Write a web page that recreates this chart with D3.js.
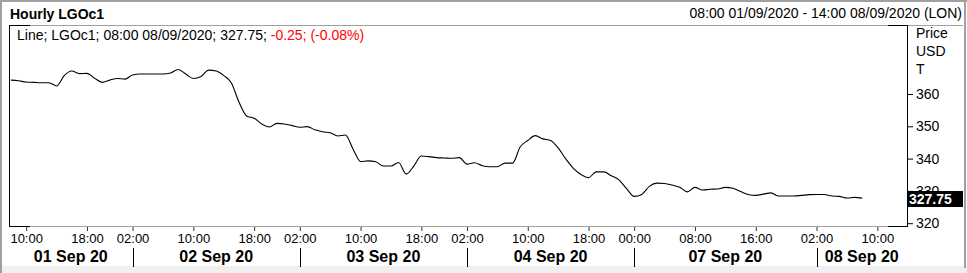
<!DOCTYPE html>
<html>
<head>
<meta charset="utf-8">
<script src="https://cdn.jsdelivr.net/npm/d3@7"></script>
<style>
  body { margin: 0; background: #fff; }
  svg { display: block; font-family: "Liberation Sans", Arial, sans-serif; }
</style>
</head>
<body>
<svg width="967" height="273"></svg>
<script>
// trading days shown on the chart, first / last hourly slot on each
var days = ["01 Sep 20", "02 Sep 20", "03 Sep 20", "04 Sep 20", "07 Sep 20", "08 Sep 20"];
var dayFirstHour = [8, 2, 2, 2, 0, 2];
var dayLastHour = [23, 23, 23, 23, 23, 14];
var hourTicks = [["10:00", "18:00"], ["02:00", "10:00", "18:00"], ["02:00", "10:00", "18:00"],
                 ["02:00", "10:00", "18:00"], ["00:00", "08:00", "16:00"], ["02:00", "10:00"]];

// hourly LGOc1 closes, one list per day
var sep01 = [364.3, 364.1, 363.7, 363.6, 363.5, 363.5, 362.5, 365.7, 367.1, 366.3, 366.4, 364.9, 363.6, 364.3, 364.8, 364.6];
var sep02 = [365.9, 366.2, 366.2, 366.2, 366.2, 366.5, 367.6, 366.2, 364.8, 365.4, 367.4, 367.1, 365.7, 363.4, 357.5, 353.2,
             352.5, 350.7, 349.8, 350.9, 350.7, 350.2];
var sep03 = [349.7, 349.9, 348.9, 348.3, 348.0, 347.0, 347.3, 343.0, 339.1, 339.3, 339.0, 337.7, 337.7, 338.8, 335.2, 337.7,
             340.8, 340.6, 340.3, 340.2, 340.1, 340.3];
var sep04 = [338.3, 338.7, 337.8, 337.5, 337.5, 338.6, 338.6, 343.6, 345.6, 347.1, 346.1, 345.6, 343.3, 339.9, 337.0, 335.1,
             334.1, 335.9, 335.9, 334.7, 333.4, 330.7];
var sep07 = [328.3, 328.9, 331.4, 332.4, 332.3, 331.8, 331.1, 329.7, 331.1, 330.3, 330.5, 330.6, 331.1, 330.8, 329.8, 328.9,
             328.6, 329.0, 329.4, 328.4, 328.4, 328.4, 328.6, 328.85];
var sep08 = [328.9, 328.9, 328.4, 328.3, 327.8, 328.0, 327.75];
var priceTicks = [320, 330, 340, 350, 360];
var lastPrice = 327.75;

var svg = d3.select('svg');
var W = 967, H = 273;
var plot = { left: 9, right: 907, top: 25, bottom: 227 };

// lay out the hourly slots; x is an index axis (no gaps for closed hours)
var dayStart = [], slots = [];
days.forEach(function (d, i) {
  dayStart.push(slots.length);
  for (var h = dayFirstHour[i]; h <= dayLastHour[i]; h++) slots.push({ day: i, hour: h });
});
var prices = [].concat(sep01, sep02, sep03, sep04, sep07, sep08);

var x = d3.scaleLinear().domain([-0.26, 117.9]).range([plot.left, plot.right]);
var y = d3.scaleLinear().domain([320, 360]).range([223.2, 94]);

// frame
svg.append('rect').attr('x', 0).attr('y', 0).attr('width', W).attr('height', H).attr('fill', '#fff');
svg.append('rect').attr('x', 0).attr('y', 266).attr('width', W).attr('height', 7).attr('fill', '#f0f0f0');
svg.append('rect').attr('x', 0).attr('y', 0).attr('width', W).attr('height', 2).attr('fill', '#a0a0a0');
svg.append('rect').attr('x', 0).attr('y', 0).attr('width', 2).attr('height', H).attr('fill', '#a0a0a0');
svg.append('rect').attr('x', 964).attr('y', 0).attr('width', 2).attr('height', 268).attr('fill', '#a0a0a0');

// header
svg.append('text').attr('x', 10).attr('y', 19).attr('font-size', 14).attr('font-weight', 'bold')
   .text('Hourly LGOc1');
svg.append('text').attr('x', 962).attr('y', 18).attr('font-size', 14).attr('text-anchor', 'end')
   .text('08:00 01/09/2020 - 14:00 08/09/2020 (LON)');

// plot box: grey edges with short black corners
var grey = '#a0a0a0';
svg.append('line').attr('x1', plot.left).attr('x2', 963).attr('y1', plot.top + 0.5).attr('y2', plot.top + 0.5)
   .attr('stroke', grey);
svg.append('line').attr('x1', plot.left).attr('x2', plot.right).attr('y1', plot.bottom - 0.5).attr('y2', plot.bottom - 0.5)
   .attr('stroke', grey);
[[plot.left, plot.left + 21], [plot.right - 19, plot.right]].forEach(function (s) {
  svg.append('line').attr('x1', s[0]).attr('x2', s[1]).attr('y1', plot.top + 0.5).attr('y2', plot.top + 0.5).attr('stroke', '#000');
  svg.append('line').attr('x1', s[0]).attr('x2', s[1]).attr('y1', plot.bottom - 0.5).attr('y2', plot.bottom - 0.5).attr('stroke', '#000');
});
svg.append('line').attr('x1', plot.left + 0.5).attr('x2', plot.left + 0.5).attr('y1', plot.top).attr('y2', plot.bottom)
   .attr('stroke', '#000');

// legend line
var leg = svg.append('text').attr('x', 17).attr('y', 40).attr('font-size', 14);
leg.append('tspan').text('Line; LGOc1; 08:00 08/09/2020; ' + lastPrice.toFixed(2) + '; ');
leg.append('tspan').attr('fill', '#ff0000').text('-0.25; (-0.08%)');

// price line
var line = d3.line()
  .x(function (d, i) { return x(i); })
  .y(function (d) { return y(d); })
  .curve(d3.curveMonotoneX);
svg.append('path').datum(prices).attr('d', line)
   .attr('fill', 'none').attr('stroke', '#000').attr('stroke-width', 1.1);

// right price axis
var yAxis = svg.append('g').attr('transform', 'translate(' + plot.right + ',0)')
  .call(d3.axisRight(y).tickValues(priceTicks).tickSize(6).tickPadding(3));
yAxis.select('.domain').remove();
yAxis.selectAll('text').attr('font-size', 14).attr('font-family', null).attr('fill', '#000');
yAxis.selectAll('line').attr('stroke', '#000');
svg.append('line').attr('x1', plot.right + 0.5).attr('x2', plot.right + 0.5).attr('y1', plot.top).attr('y2', plot.bottom)
   .attr('stroke', '#000');
['Price', 'USD', 'T'].forEach(function (t, i) {
  svg.append('text').attr('x', 916).attr('y', 38 + i * 18).attr('font-size', 14).text(t);
});

// last value tag
svg.append('rect').attr('x', 908).attr('y', 191).attr('width', 55).attr('height', 16).attr('fill', '#000');
svg.append('text').attr('x', 909).attr('y', 204).attr('font-size', 14).attr('font-weight', 'bold')
   .attr('fill', '#fff').text(lastPrice.toFixed(2));

// bottom time axis
var tickIdx = [], tickLab = [];
hourTicks.forEach(function (list, d) {
  list.forEach(function (lab) {
    tickIdx.push(dayStart[d] + parseInt(lab, 10) - dayFirstHour[d]);
    tickLab.push(lab);
  });
});
var xAxis = svg.append('g').attr('transform', 'translate(0,' + plot.bottom + ')')
  .call(d3.axisBottom(x).tickValues(tickIdx).tickSize(4).tickPadding(3)
          .tickFormat(function (d, i) { return tickLab[i]; }));
xAxis.select('.domain').remove();
xAxis.selectAll('text').attr('font-size', 13).attr('font-family', null).attr('fill', '#000');
xAxis.selectAll('line').attr('stroke', '#333');

// day separators and labels
var bounds = dayStart.map(function (s) { return x(s); }).slice(1);
bounds.forEach(function (b) {
  svg.append('line').attr('x1', Math.round(b) + 0.5).attr('x2', Math.round(b) + 0.5).attr('y1', 248).attr('y2', 267)
     .attr('stroke', '#000');
});
var edges = [plot.left].concat(bounds, [plot.right]);
svg.selectAll('.day').data(days).enter().append('text')
   .attr('class', 'day')
   .attr('x', function (d, i) { return (edges[i] + edges[i + 1]) / 2; })
   .attr('y', 262).attr('text-anchor', 'middle')
   .attr('font-size', 16).attr('font-weight', 'bold')
   .text(function (d) { return d; });
</script>
</body>
</html>
